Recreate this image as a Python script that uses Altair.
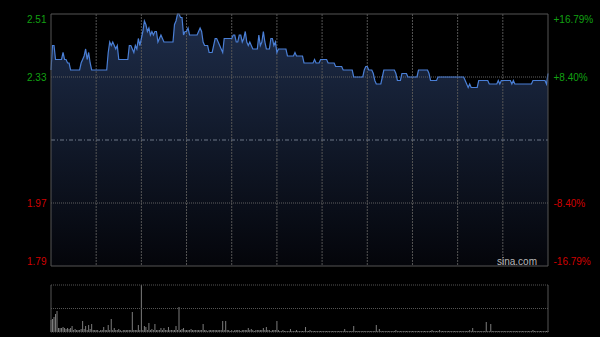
import altair as alt
import pandas as pd

# ---- intraday price (minutes after 09:30 open, HKD) ----
MINUTES = [0, 1, 2, 3, 7, 8, 9, 10, 11, 12, 13, 19, 20, 21, 22, 23, 24, 25, 26, 27,
           37, 38, 39, 40, 41, 42, 43, 44, 45, 51, 52, 53, 54, 55, 56, 57, 58, 59, 60, 61,
           62, 63, 64, 65, 66, 67, 68, 69, 70, 71, 72, 73, 74, 75, 81, 82, 83, 84, 85, 86,
           87, 88, 89, 90, 91, 92, 97, 98, 99, 100, 101, 102, 104, 105, 107, 108, 109, 110, 111, 112,
           113, 114, 115, 120, 121, 122, 123, 124, 125, 126, 127, 128, 129, 130, 131, 132, 133, 134, 137, 138,
           139, 140, 141, 142, 143, 145, 146, 147, 148, 149, 150, 151, 156, 157, 161, 162, 163, 167, 168, 174,
           175, 176, 178, 179, 183, 184, 188, 189, 193, 194, 200, 201, 207, 208, 209, 210, 211, 213, 214, 215,
           216, 219, 220, 221, 228, 229, 230, 232, 233, 236, 237, 243, 244, 250, 251, 252, 256, 257, 274, 275,
           276, 277, 278, 279, 283, 284, 290, 291, 296, 297, 298, 299, 305, 306, 307, 308, 319, 320, 328, 329,
           330]
PRICES = [2.35, 2.42, 2.42, 2.38, 2.38, 2.40, 2.38, 2.38, 2.37, 2.37, 2.35, 2.35, 2.37, 2.38, 2.39, 2.41, 2.38, 2.40, 2.37, 2.35,
          2.35, 2.40, 2.43, 2.42, 2.43, 2.42, 2.41, 2.42, 2.38, 2.38, 2.42, 2.42, 2.41, 2.40, 2.42, 2.41, 2.44, 2.42, 2.44, 2.46,
          2.49, 2.48, 2.46, 2.47, 2.45, 2.46, 2.45, 2.46, 2.46, 2.43, 2.44, 2.45, 2.44, 2.43, 2.43, 2.48, 2.49, 2.51, 2.51, 2.50,
          2.50, 2.45, 2.46, 2.46, 2.47, 2.45, 2.45, 2.46, 2.47, 2.46, 2.43, 2.42, 2.42, 2.40, 2.40, 2.42, 2.44, 2.44, 2.43, 2.42,
          2.41, 2.40, 2.44, 2.44, 2.45, 2.45, 2.43, 2.43, 2.45, 2.45, 2.43, 2.44, 2.46, 2.43, 2.42, 2.43, 2.42, 2.41, 2.41, 2.45,
          2.42, 2.43, 2.46, 2.43, 2.41, 2.41, 2.44, 2.44, 2.42, 2.43, 2.40, 2.41, 2.41, 2.39, 2.39, 2.40, 2.39, 2.39, 2.37, 2.37,
          2.38, 2.37, 2.37, 2.38, 2.38, 2.37, 2.37, 2.36, 2.36, 2.35, 2.35, 2.33, 2.33, 2.35, 2.36, 2.36, 2.35, 2.35, 2.34, 2.32,
          2.31, 2.31, 2.33, 2.35, 2.35, 2.34, 2.32, 2.32, 2.34, 2.34, 2.33, 2.33, 2.35, 2.35, 2.34, 2.32, 2.32, 2.33, 2.33, 2.32,
          2.31, 2.30, 2.31, 2.30, 2.30, 2.32, 2.32, 2.31, 2.31, 2.32, 2.31, 2.32, 2.32, 2.31, 2.32, 2.31, 2.31, 2.32, 2.32, 2.31,
          2.34]

# ---- per-minute volume (relative units), minutes 0..330 ----
VOLUMES = [
    12, 13, 15, 18, 21, 4, 4, 4, 5, 4,
    3, 4, 3, 4, 6, 2, 3, 2, 2, 2,
    3, 11, 3, 6, 2, 7, 3, 8, 2, 2,
    2, 2, 1, 2, 2, 5, 2, 2, 7, 2,
    13, 2, 4, 2, 2, 3, 2, 1, 2, 2,
    2, 2, 2, 2, 20, 2, 2, 2, 7, 2,
    47, 2, 6, 5, 2, 9, 2, 3, 2, 8,
    2, 2, 2, 4, 2, 4, 2, 2, 5, 2,
    2, 2, 2, 6, 2, 25, 2, 3, 4, 2,
    2, 2, 2, 3, 2, 2, 2, 2, 2, 2,
    2, 8, 2, 2, 1, 2, 2, 2, 2, 2,
    2, 2, 2, 2, 11, 2, 11, 2, 2, 1,
    2, 1, 2, 2, 2, 2, 1, 2, 2, 2,
    2, 4, 2, 3, 2, 1, 2, 2, 2, 2,
    2, 4, 2, 5, 2, 2, 1, 2, 2, 2,
    11, 2, 1, 1, 2, 1, 1, 1, 1, 3,
    1, 1, 1, 2, 1, 1, 1, 1, 1, 5,
    1, 1, 2, 1, 1, 1, 1, 1, 1, 1,
    1, 1, 1, 1, 1, 1, 1, 1, 1, 1,
    1, 1, 1, 1, 1, 3, 1, 1, 1, 1,
    1, 6, 1, 1, 1, 1, 1, 1, 1, 1,
    1, 1, 1, 1, 1, 1, 7, 1, 3, 1,
    1, 1, 1, 1, 1, 1, 1, 1, 1, 2,
    1, 1, 1, 1, 1, 1, 1, 1, 1, 1,
    1, 1, 1, 1, 1, 1, 1, 1, 1, 1,
    1, 1, 1, 2, 1, 1, 1, 1, 2, 1,
    1, 1, 1, 1, 1, 1, 1, 1, 1, 1,
    1, 1, 1, 1, 1, 1, 1, 1, 2, 1,
    4, 1, 1, 1, 1, 1, 1, 1, 1, 10,
    1, 1, 8, 1, 1, 1, 1, 1, 1, 1,
    1, 1, 1, 1, 1, 1, 1, 1, 1, 1,
    1, 1, 1, 1, 1, 1, 1, 1, 1, 1,
    2, 1, 1, 1, 1, 1, 1, 1, 1, 1,
    1,
]

PREV_CLOSE = 2.15
PRICE_TICKS = [1.79, 1.97, 2.15, 2.33, 2.51]
PCT_LABELS = ["-16.79%", "-8.40%", "", "+8.40%", "+16.79%"]
H_GRID = [1.97, 2.33]
GRID_MINUTES = [30, 60, 90, 120, 150, 180, 210, 240, 270, 300]
SESSION_MINUTES = 330

assert len(MINUTES) == len(PRICES)
assert len(VOLUMES) == SESSION_MINUTES + 1

P_LO, P_HI = PRICE_TICKS[0], PRICE_TICKS[-1]
V_MAX = max(VOLUMES)

GREEN = "#12a012"
RED = "#d00000"
FONT = "Liberation Sans"

price_df = pd.DataFrame({"m": MINUTES, "p": PRICES, "lo": P_LO})
vol_df = pd.DataFrame({"m": list(range(SESSION_MINUTES + 1)), "v": VOLUMES, "z": 0})
vgrid_df = pd.DataFrame({"m": GRID_MINUTES, "lo": P_LO, "hi": P_HI})
hgrid_df = pd.DataFrame({"p": H_GRID, "m0": 0, "m1": SESSION_MINUTES})
mid_df = pd.DataFrame({"p": [PREV_CLOSE], "m0": [0], "m1": [SESSION_MINUTES]})
frame_df = pd.DataFrame({"m0": [0], "m1": [SESSION_MINUTES], "lo": [P_LO], "hi": [P_HI]})
vside_df = pd.DataFrame({"m": [0, SESSION_MINUTES], "z": 0, "top": V_MAX})
vline_df = pd.DataFrame({"v": [V_MAX, V_MAX / 2, 0], "m0": 0, "m1": SESSION_MINUTES})
ticks_df = pd.DataFrame({"p": PRICE_TICKS})

XS = alt.Scale(domain=[0, SESSION_MINUTES], nice=False, zero=False, padding=0)
PY = alt.Scale(domain=[P_LO, P_HI], range=[252, 0], nice=False, zero=False)
VY = alt.Scale(domain=[0, V_MAX], range=[318, 271], nice=False, zero=False)

color_cond = {"condition": {"test": f"datum.value > {PREV_CLOSE}", "value": GREEN}, "value": RED}
base_cond = {
    "condition": [
        {"test": f"datum.value >= {P_HI}", "value": "top"},
        {"test": f"datum.value <= {P_LO}", "value": "bottom"},
    ],
    "value": "middle",
}

left_axis = alt.Axis(
    orient="left", values=PRICE_TICKS,
    labelExpr=f"datum.value == {PREV_CLOSE} ? '' : format(datum.value, '.2f')",
    labelColor=color_cond, labelBaseline=base_cond,
    ticks=False, tickSize=0, domain=False, grid=False, labelPadding=5,
    labelFont=FONT, labelFontSize=10, labelOverlap=False, labelFlush=False, title=None,
)

pct_expr = " : ".join(
    f"datum.value == {v} ? '{t}'" for v, t in zip(PRICE_TICKS, PCT_LABELS)
) + " : ''"
right_axis = alt.Axis(
    orient="right", values=PRICE_TICKS, labelExpr=pct_expr,
    labelColor=color_cond, labelBaseline=base_cond,
    ticks=False, tickSize=0, domain=False, grid=False, labelPadding=5,
    labelFont=FONT, labelFontSize=10, labelOverlap=False, labelFlush=False, title=None,
)

gradient = alt.Gradient(
    gradient="linear", x1=0, x2=0, y1=0, y2=1,
    stops=[alt.GradientStop(color="#1e2d4a", offset=0),
           alt.GradientStop(color="#04050a", offset=1)],
)

area = alt.Chart(price_df).mark_area(color=gradient).encode(
    x=alt.X("m:Q", scale=XS, axis=None),
    y=alt.Y("p:Q", scale=PY, axis=left_axis),
    y2="lo:Q",
)

vgrid = alt.Chart(vgrid_df).mark_rule(color="#555555", strokeDash=[2, 1], strokeWidth=1).encode(
    x=alt.X("m:Q", scale=XS, axis=None),
    y=alt.Y("hi:Q", scale=PY, axis=None),
    y2="lo:Q",
)

hgrid = alt.Chart(hgrid_df).mark_rule(color="#5e5e5e", strokeDash=[1, 1], strokeWidth=1).encode(
    x=alt.X("m0:Q", scale=XS, axis=None),
    x2="m1:Q",
    y=alt.Y("p:Q", scale=PY, axis=None),
)

midline = alt.Chart(mid_df).mark_rule(color="#6f7888", strokeDash=[4, 2, 1, 2], strokeWidth=1).encode(
    x=alt.X("m0:Q", scale=XS, axis=None),
    x2="m1:Q",
    y=alt.Y("p:Q", scale=PY, axis=None),
)

line = alt.Chart(price_df).mark_line(color="#4a7fd6", strokeWidth=1.2).encode(
    x=alt.X("m:Q", scale=XS, axis=None),
    y=alt.Y("p:Q", scale=PY, axis=None),
)

frame = alt.Chart(frame_df).mark_rect(fillOpacity=0, stroke="#555555", strokeWidth=1).encode(
    x=alt.X("m0:Q", scale=XS, axis=None),
    x2="m1:Q",
    y=alt.Y("hi:Q", scale=PY, axis=None),
    y2="lo:Q",
)

vol_bars = alt.Chart(vol_df).mark_rule(color="#7c7c7c", strokeWidth=1).encode(
    x=alt.X("m:Q", scale=XS, axis=None),
    y=alt.Y("v:Q", scale=VY, axis=None),
    y2="z:Q",
)

vol_sides = alt.Chart(vside_df).mark_rule(color="#555555", strokeWidth=1).encode(
    x=alt.X("m:Q", scale=XS, axis=None),
    y=alt.Y("top:Q", scale=VY, axis=None),
    y2="z:Q",
)

vol_lines = alt.Chart(vline_df).mark_rule(color="#555555", strokeDash=[1, 1], strokeWidth=1).encode(
    x=alt.X("m0:Q", scale=XS, axis=None),
    x2="m1:Q",
    y=alt.Y("v:Q", scale=VY, axis=None),
)

right = alt.Chart(ticks_df).mark_point(opacity=0, size=0).encode(
    y=alt.Y("p:Q", scale=PY, axis=right_axis),
)

watermark = alt.Chart(ticks_df.head(1)).mark_text(
    text="sina.com", align="right", baseline="alphabetic",
    color="#b8b8b8", font=FONT, fontSize=10,
).encode(x=alt.value(486), y=alt.value(251))

chart = alt.layer(
    area, vgrid, hgrid, midline, line, frame,
    vol_bars, vol_lines, vol_sides, right, watermark,
).resolve_scale(y="independent").properties(
    width=497, height=318, background="#000000",
    padding={"left": 51, "top": 14, "right": 52, "bottom": 5},
    autosize=alt.AutoSizeParams(type="none"),
).configure_view(stroke=None)

chart.save("out.html", embed_options={"renderer": "svg", "actions": False})
